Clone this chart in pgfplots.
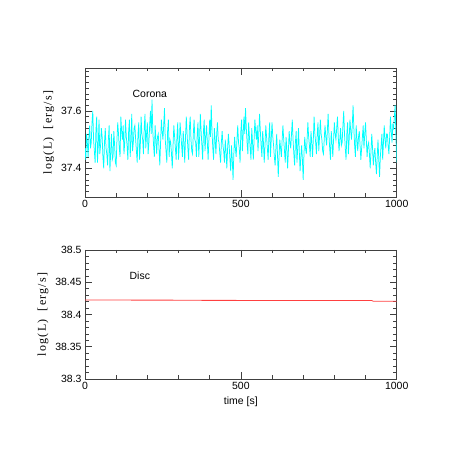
\documentclass[border=0pt]{standalone}
\usepackage{fontspec}
\setmainfont{Liberation Sans}
\newfontfamily\serif[LetterSpace=10]{Liberation Serif}
\usepackage{pgfplots}
\pgfplotsset{compat=1.18}
\definecolor{coronacyan}{rgb}{0,1,1}
\definecolor{discred}{rgb}{1,0.25,0.25}

\pgfplotsset{
    lc panel/.style={
            scale only axis,
            width=311.7bp, height=129bp,
            anchor=south west,
            xmin=0, xmax=1000,
            xtick={0,500,1000}, xticklabels={0,500,1000},
            minor xtick={100,200,300,400,600,700,800,900},
            xtick pos=both, ytick pos=both,
            tick align=inside,
            major tick length=7bp, minor tick length=3.5bp,
            tick style={black!75, line width=0.5pt},
            axis line style={black!75, line width=0.6pt},
            every tick label/.append style={font=\fontsize{10.5}{12}\selectfont},
            label style={font=\fontsize{10.5}{12}\selectfont},
            ylabel style={font=\fontsize{12}{13}\selectfont},
            clip=true,
        },
}

\begin{document}
\begin{tikzpicture}
    \path[use as bounding box] (0,0) rectangle (463bp,463bp);
    % --- Corona ---
    \begin{axis}[lc panel, at={(85bp,266bp)},
            ymin=37.3, ymax=37.75,
            ytick={37.4,37.6}, yticklabels={37.4,37.6},
            minor ytick={37.32,37.34,37.36,37.38,37.42,37.44,37.46,37.48,37.50,37.52,37.54,37.56,37.58,37.62,37.64,37.66,37.68,37.70,37.72,37.74},
            ylabel={\serif log(L)\ \ [erg/s]}]
        \addplot[coronacyan, line width=0.75pt] table {
x y
0 37.47
2.5 37.43
5 37.52
7.5 37.49
10 37.44
12.5 37.51
15 37.55
17.5 37.47
20 37.49
22.5 37.56
25 37.60
27.5 37.50
30 37.46
32.5 37.42
35 37.53
37.5 37.58
40 37.42
42.5 37.48
45 37.57
47.5 37.45
50 37.48
52.5 37.54
55 37.51
57.5 37.44
60 37.40
62.5 37.49
65 37.54
67.5 37.47
70 37.45
72.5 37.41
75 37.50
77.5 37.55
80 37.39
82.5 37.46
85 37.52
87.5 37.43
90 37.44
92.5 37.53
95 37.48
97.5 37.42
100 37.41
102.5 37.50
105 37.56
107.5 37.52
110 37.47
112.5 37.44
115 37.58
117.5 37.53
120 37.50
122.5 37.55
125 37.45
127.5 37.49
130 37.57
132.5 37.51
135 37.48
137.5 37.43
140 37.53
142.5 37.57
145 37.44
147.5 37.50
150 37.59
152.5 37.46
155 37.49
157.5 37.54
160 37.55
162.5 37.50
165 37.46
167.5 37.42
170 37.52
172.5 37.56
175 37.43
177.5 37.48
180 37.58
182.5 37.52
185 37.50
187.5 37.45
190 37.54
192.5 37.59
195 37.47
197.5 37.52
200 37.56
202.5 37.45
205 37.49
207.5 37.55
210 37.60
212.5 37.52
215 37.64
217.5 37.53
220 37.48
222.5 37.44
225 37.55
227.5 37.50
230 37.45
232.5 37.51
235 37.52
237.5 37.47
240 37.41
242.5 37.49
245 37.57
247.5 37.53
250 37.50
252.5 37.55
255 37.61
257.5 37.50
260 37.46
262.5 37.42
265 37.53
267.5 37.57
270 37.44
272.5 37.50
275 37.49
277.5 37.45
280 37.40
282.5 37.48
285 37.55
287.5 37.51
290 37.47
292.5 37.43
295 37.51
297.5 37.56
300 37.43
302.5 37.48
305 37.56
307.5 37.52
310 37.48
312.5 37.44
315 37.53
317.5 37.49
320 37.42
322.5 37.51
325 37.58
327.5 37.52
330 37.47
332.5 37.43
335 37.54
337.5 37.58
340 37.50
342.5 37.46
345 37.45
347.5 37.52
350 37.57
352.5 37.50
355 37.49
357.5 37.44
360 37.52
362.5 37.56
365 37.44
367.5 37.50
370 37.59
372.5 37.53
375 37.48
377.5 37.43
380 37.53
382.5 37.57
385 37.46
387.5 37.51
390 37.55
392.5 37.49
395 37.43
397.5 37.50
400 37.57
402.5 37.51
405 37.62
407.5 37.53
410 37.47
412.5 37.43
415 37.54
417.5 37.50
420 37.45
422.5 37.52
425 37.56
427.5 37.50
430 37.49
432.5 37.45
435 37.42
437.5 37.49
440 37.53
442.5 37.48
445 37.46
447.5 37.42
450 37.50
452.5 37.46
455 37.40
457.5 37.47
460 37.52
462.5 37.48
465 37.43
467.5 37.39
470 37.48
472.5 37.43
475 37.36
477.5 37.45
480 37.51
482.5 37.47
485 37.44
487.5 37.50
490 37.55
492.5 37.49
495 37.47
497.5 37.42
500 37.53
502.5 37.57
505 37.46
507.5 37.52
510 37.58
512.5 37.52
515 37.61
517.5 37.54
520 37.49
522.5 37.45
525 37.56
527.5 37.51
530 37.47
532.5 37.43
535 37.54
537.5 37.49
540 37.43
542.5 37.50
545 37.57
547.5 37.53
550 37.50
552.5 37.55
555 37.46
557.5 37.52
560 37.59
562.5 37.53
565 37.48
567.5 37.44
570 37.53
572.5 37.49
575 37.42
577.5 37.48
580 37.55
582.5 37.51
585 37.47
587.5 37.43
590 37.51
592.5 37.56
595 37.44
597.5 37.50
600 37.56
602.5 37.51
605 37.48
607.5 37.44
610 37.41
612.5 37.47
615 37.52
617.5 37.45
620 37.37
622.5 37.44
625 37.50
627.5 37.47
630 37.44
632.5 37.50
635 37.55
637.5 37.50
640 37.46
642.5 37.42
645 37.51
647.5 37.47
650 37.40
652.5 37.46
655 37.53
657.5 37.49
660 37.47
662.5 37.52
665 37.57
667.5 37.50
670 37.45
672.5 37.41
675 37.49
677.5 37.53
680 37.42
682.5 37.47
685 37.54
687.5 37.46
690 37.39
692.5 37.44
695 37.48
697.5 37.43
700 37.36
702.5 37.45
705 37.51
707.5 37.47
710 37.45
712.5 37.50
715 37.56
717.5 37.51
720 37.48
722.5 37.44
725 37.53
727.5 37.49
730 37.44
732.5 37.50
735 37.58
737.5 37.52
740 37.49
742.5 37.45
745 37.52
747.5 37.56
750 37.46
752.5 37.51
755 37.57
757.5 37.52
760 37.50
762.5 37.46
765 37.45
767.5 37.50
770 37.55
772.5 37.51
775 37.48
777.5 37.53
780 37.59
782.5 37.52
785 37.47
787.5 37.43
790 37.53
792.5 37.49
795 37.44
797.5 37.50
800 37.56
802.5 37.52
805 37.50
807.5 37.54
810 37.58
812.5 37.51
815 37.46
817.5 37.50
820 37.54
822.5 37.48
825 37.49
827.5 37.55
830 37.60
832.5 37.52
835 37.47
837.5 37.43
840 37.52
842.5 37.56
845 37.45
847.5 37.50
850 37.57
852.5 37.53
855 37.50
857.5 37.55
860 37.62
862.5 37.54
865 37.48
867.5 37.44
870 37.55
872.5 37.50
875 37.46
877.5 37.51
880 37.53
882.5 37.48
885 37.43
887.5 37.47
890 37.51
892.5 37.55
895 37.47
897.5 37.52
900 37.56
902.5 37.50
905 37.44
907.5 37.48
910 37.49
912.5 37.45
915 37.40
917.5 37.46
920 37.52
922.5 37.47
925 37.41
927.5 37.45
930 37.47
932.5 37.42
935 37.38
937.5 37.44
940 37.50
942.5 37.43
945 37.37
947.5 37.44
950 37.48
952.5 37.52
955 37.43
957.5 37.49
960 37.55
962.5 37.50
965 37.47
967.5 37.52
970 37.52
972.5 37.48
975 37.45
977.5 37.51
980 37.58
982.5 37.53
985 37.49
987.5 37.55
990 37.54
992.5 37.58
995 37.62
997.5 37.51
1000 37.42
};
        \node[font=\fontsize{10.5}{12}\selectfont] at (axis cs:208,37.66) {Corona};
    \end{axis}
    % --- Disc ---
    \begin{axis}[lc panel, at={(85bp,84bp)},
            ymin=38.3, ymax=38.5,
            ytick={38.3,38.35,38.4,38.45,38.5},
            yticklabels={38.3,38.35,38.4,38.45,38.5},
            minor ytick={38.31,38.32,38.33,38.34,38.36,38.37,38.38,38.39,38.41,38.42,38.43,38.44,38.46,38.47,38.48,38.49},
            xlabel={time [s]},
            ylabel={\serif log(L)\ \ [erg/s]}]
        \addplot[discred, line width=0.8pt] table {
x y
0 38.4224
370 38.4222
375 38.4219
920 38.4217
925 38.4205
1000 38.4205
};
        \node[font=\fontsize{10.5}{12}\selectfont] at (axis cs:176,38.46) {Disc};
    \end{axis}
\end{tikzpicture}
\end{document}
